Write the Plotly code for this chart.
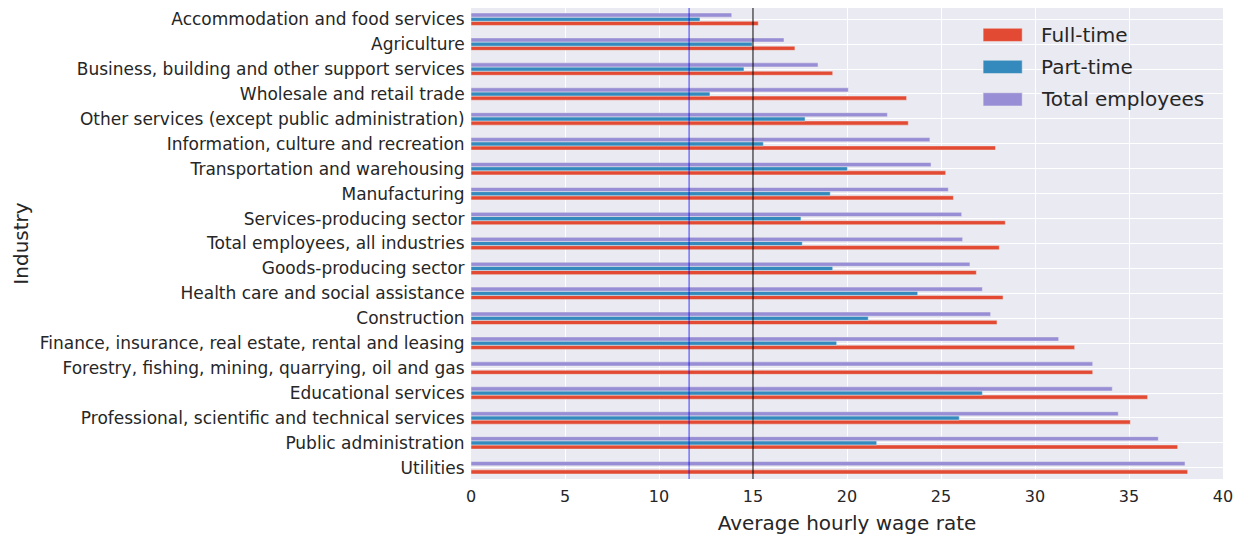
import plotly.graph_objects as go

# industries, listed bottom to top as they appear on the y axis
industries = [
    "Utilities",
    "Public administration",
    "Professional, scientific and technical services",
    "Educational services",
    "Forestry, fishing, mining, quarrying, oil and gas",
    "Finance, insurance, real estate, rental and leasing",
    "Construction",
    "Health care and social assistance",
    "Goods-producing sector",
    "Total employees, all industries",
    "Services-producing sector",
    "Manufacturing",
    "Transportation and warehousing",
    "Information, culture and recreation",
    "Other services (except public administration)",
    "Wholesale and retail trade",
    "Business, building and other support services",
    "Agriculture",
    "Accommodation and food services",
]

full_time = [38.12, 37.59, 35.07, 35.99, 33.07, 32.11, 27.98, 28.30, 26.88, 28.10,
             28.42, 25.66, 25.25, 27.90, 23.26, 23.17, 19.24, 17.23, 15.28]
part_time = [None, 21.58, 25.97, 27.20, None, 19.45, 21.13, 23.76, 19.24, 17.62,
             17.55, 19.11, 20.02, 15.55, 17.77, 12.71, 14.52, 14.96, 12.18]
total_emp = [37.98, 36.56, 34.43, 34.11, 33.07, 31.26, 27.64, 27.20, 26.54, 26.15,
             26.10, 25.39, 24.47, 24.41, 22.15, 20.07, 18.46, 16.65, 13.87]

series_names = ["Full-time", "Part-time", "Total employees"]
series_colors = ["#E24A33", "#348ABD", "#988ED5"]

x_ticks = [0, 5, 10, 15, 20, 25, 30, 35, 40]
min_wage = 11.6
ref_wage = 15

text_col = "#262626"
clear = "rgba(0,0,0,0)"

fig = go.Figure()
for name, vals, col in zip(series_names, [full_time, part_time, total_emp], series_colors):
    fig.add_bar(y=industries, x=vals, name=name, orientation="h", showlegend=False,
                marker=dict(color=col, line=dict(color="#EEEEEE", width=0.5)))

# vertical reference lines drawn above the bars
fig.add_shape(type="line", x0=min_wage, x1=min_wage, y0=0, y1=1, yref="paper",
              line=dict(color="rgba(0,0,255,0.75)", width=1), layer="above")
fig.add_shape(type="line", x0=ref_wage, x1=ref_wage, y0=0, y1=1, yref="paper",
              line=dict(color="black", width=1), layer="above")

# matplotlib-style legend: wide colour patches with labels, top right
leg_y = [0.943, 0.875, 0.806]
for name, col, yy in zip(series_names, series_colors, leg_y):
    fig.add_shape(type="rect", xref="paper", yref="paper",
                  x0=0.681, x1=0.733, y0=yy - 0.014, y1=yy + 0.014,
                  fillcolor=col, line=dict(color="#EEEEEE", width=0.5), layer="above")
    fig.add_annotation(xref="paper", yref="paper", x=0.755, y=yy, text=name,
                       showarrow=False, xanchor="left", yanchor="middle",
                       font=dict(size=20, color=text_col))

# the page body has an 8px margin, so the figure is 8px smaller each way
fig.update_layout(
    width=1235, height=529,
    margin=dict(l=463, r=20, t=0, b=58),
    barmode="group", bargap=0.5, bargroupgap=0,
    plot_bgcolor="#EAEAF2", paper_bgcolor="white",
    font=dict(family="DejaVu Sans", color=text_col, size=17),
    showlegend=False,
    xaxis=dict(range=[0, 40], tickvals=x_ticks, showgrid=True, gridcolor="white",
               gridwidth=1, zeroline=False, ticks="outside", ticklen=3, tickcolor=clear,
               tickfont=dict(size=16, color=text_col),
               title=dict(text="Average hourly wage rate", font=dict(size=20), standoff=10)),
    yaxis=dict(type="category", categoryorder="array", categoryarray=industries,
               range=[-0.45, 18.45], showgrid=True, gridcolor="white", gridwidth=1,
               ticks="outside", ticklen=2, tickcolor=clear,
               tickfont=dict(size=17, color=text_col),
               title=dict(text="Industry", font=dict(size=20), standoff=5)),
)

fig.write_html("out.html")
